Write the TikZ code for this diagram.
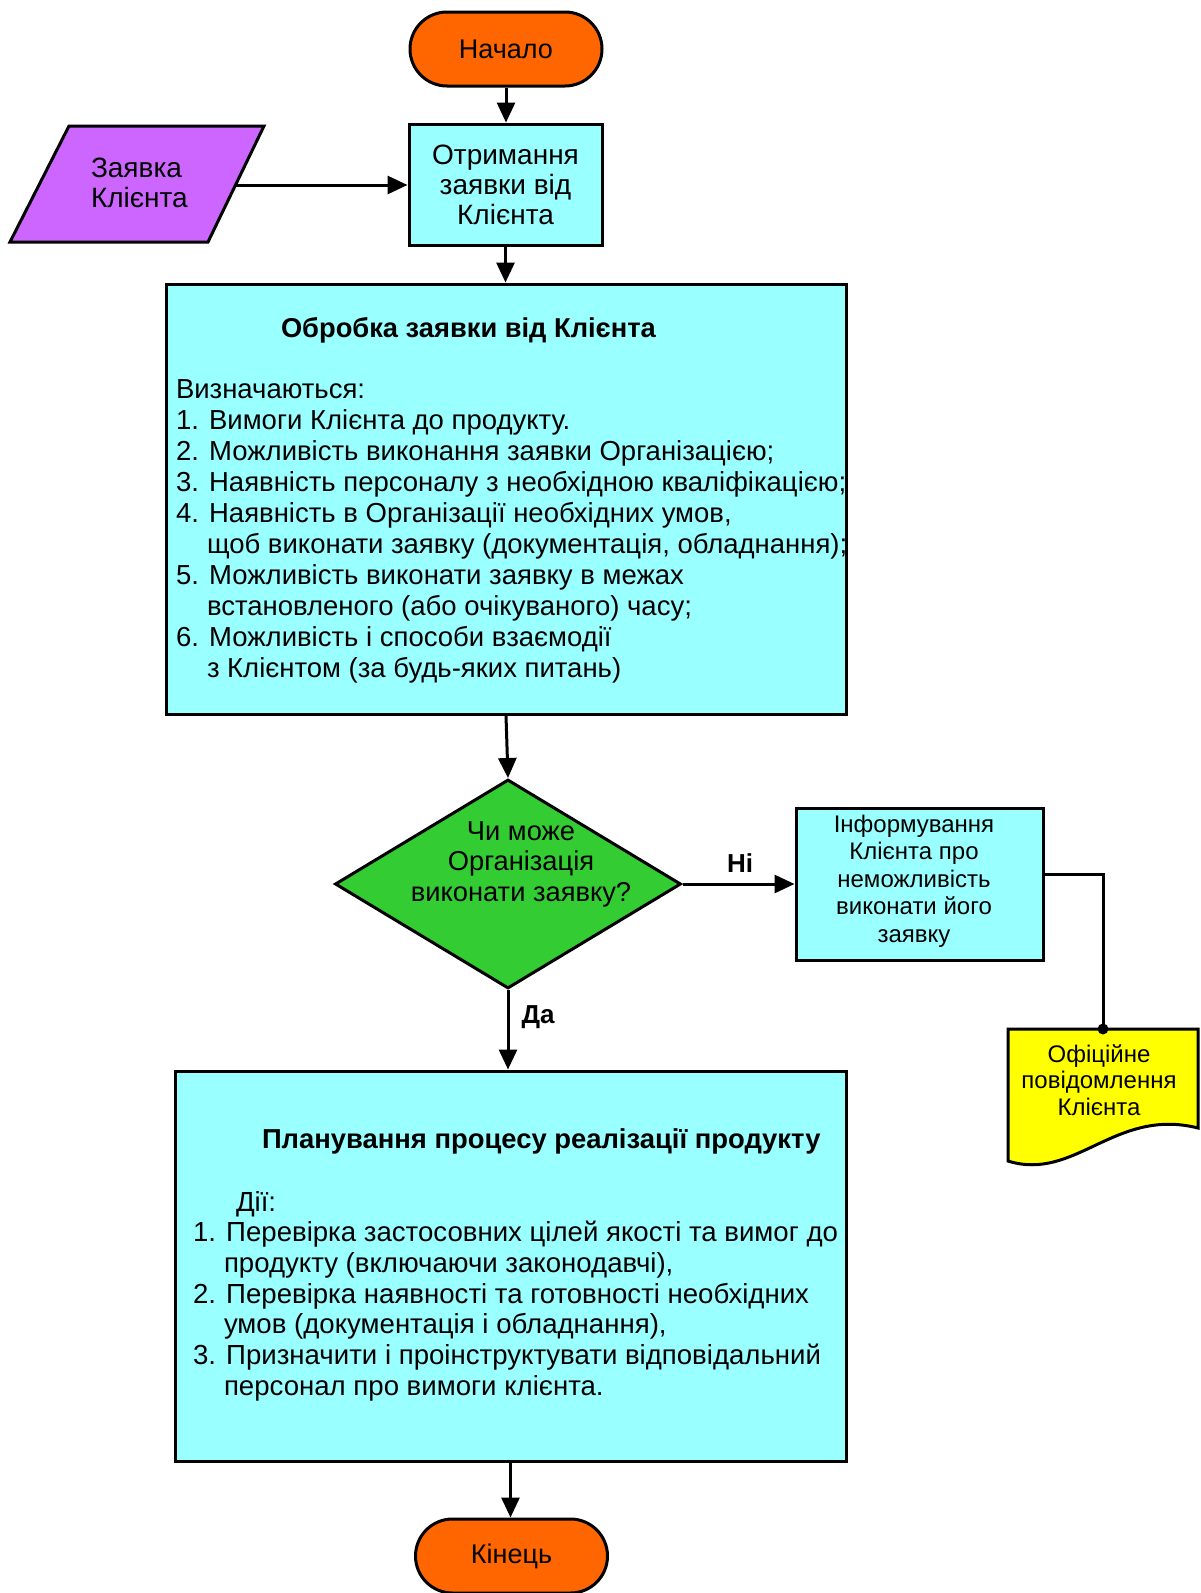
\documentclass[tikz,border=0pt]{standalone}
\usepackage{fontspec}
\setmainfont{Liberation Sans}
\usetikzlibrary{arrows.meta,shapes.geometric}
\definecolor{termorange}{HTML}{FF6600}
\definecolor{proccyan}{HTML}{99FFFF}
\definecolor{inpviolet}{HTML}{CC66FF}
\definecolor{decgreen}{HTML}{33CC33}
\definecolor{docyellow}{HTML}{FFFF00}
% font size with a fixed line pitch
\newcommand{\fsz}[2]{\fontsize{#1}{#2}\selectfont\lineskiplimit=-100pt\relax}
\newcommand{\firstline}{\rule{0pt}{22pt}}
\newcommand{\contind}{\hspace*{31pt}}
\begin{document}
\begin{tikzpicture}[x=1pt,y=-1pt,
  terminal/.style={draw, line width=3pt, fill=termorange, rectangle, rounded corners=37pt,
    minimum width=192pt, minimum height=74pt, font=\fsz{27}{30}},
  procbox/.style={draw, line width=3pt, fill=proccyan, rectangle, inner sep=0pt},
  txt/.style={inner sep=0pt, outer sep=0pt},
  flow/.style={line width=3pt, -{Triangle[length=20pt,width=18pt]}},
  link/.style={line width=3pt},
]
\useasboundingbox (0,0) rectangle (1200,1593);
\fill[white] (0,0) rectangle (1200,1593);

% start
\node[terminal] (start) at (506,49) {Начало};

% receiving the request
\node[procbox, minimum width=193pt, minimum height=121pt, align=center, font=\fsz{28}{30}]
  (receive) at (505.5,184.5) {Отримання\\заявки від\\Клієнта};

% input: client request
\draw[line width=3pt, fill=inpviolet, line join=miter]
  (69,126) -- (264,126) -- (208,242) -- (10,242) -- cycle;
\node[txt, anchor=west, align=left, font=\fsz{28}{30}] (request) at (91,183) {Заявка\\Клієнта};
\coordinate (request-out) at (236,185);

% processing the request
\node[procbox, minimum width=680pt, minimum height=430pt] (process) at (506,499) {};
\node[txt, anchor=base west, font=\bfseries\fsz{27.3}{31}] (process-title) at (281,337)
  {Обробка заявки від Клієнта};
\node[txt, anchor=north west, align=left, font=\fsz{27.5}{31}] (process-list) at (176,376) {%
  \firstline Визначаються:\\
  1. Вимоги Клієнта до продукту.\\
  2. Можливість виконання заявки Організацією;\\
  3. Наявність персоналу з необхідною кваліфікацією;\\
  4. Наявність в Організації необхідних умов,\\
  \contind щоб виконати заявку (документація, обладнання);\\
  5. Можливість виконати заявку в межах\\
  \contind встановленого (або очікуваного) часу;\\
  6. Можливість і способи взаємодії\\
  \contind з Клієнтом (за будь-яких питань)};

% decision
\node[draw, diamond, line width=3pt, fill=decgreen, minimum width=346pt, minimum height=209pt,
  inner sep=0pt] (decide) at (508,884) {};
\node[txt, align=center, font=\fsz{27.3}{30.5}] (decide-text) at (521,864)
  {Чи може\\Організація\\виконати заявку?};

% informing the client
\node[procbox, minimum width=247pt, minimum height=152pt] (inform) at (919.5,884) {};
\node[txt, align=center, font=\fsz{24}{27.5}] (inform-text) at (914,881)
  {Інформування\\Клієнта про\\неможливість\\виконати його\\заявку};

% document: official notice
\draw[line width=3pt, fill=docyellow, line join=miter]
  (1008,1029) -- (1198,1029) -- (1198,1128)
  .. controls (1115,1107) and (1075,1182) .. (1008,1161) -- cycle;
\coordinate (notice-top) at (1103,1029);
\node[txt, align=center, font=\fsz{24}{26.5}] (notice) at (1099,1080)
  {Офіційне\\повідомлення\\Клієнта};

% planning
\node[procbox, minimum width=671pt, minimum height=390pt] (plan) at (510.5,1266) {};
\node[txt, anchor=base west, font=\bfseries\fsz{27.4}{31}] (plan-title) at (262,1148)
  {Планування процесу реалізації продукту};
\node[txt, anchor=north west, align=left, font=\fsz{27.6}{30.7}] (plan-list) at (193,1189) {%
  \firstline\hspace*{43pt}Дії:\\
  1. Перевірка застосовних цілей якості та вимог до\\
  \contind продукту (включаючи законодавчі),\\
  2. Перевірка наявності та готовності необхідних\\
  \contind умов (документація і обладнання),\\
  3. Призначити і проінструктувати відповідальний\\
  \contind персонал про вимоги клієнта.};

% end
\node[terminal] (finish) at (511.5,1556) {Кінець};

% connectors
\draw[flow] (start.south) -- (start.south |- receive.north);
\draw[flow] (request-out) -- (request-out -| receive.west);
\draw[flow] (receive.south) -- (receive.south |- process.north);
\draw[flow] (process.south) -- (decide.north);
\draw[flow] (decide.south) -- (decide.south |- plan.north);
\draw[flow] (plan.south) -- (plan.south |- finish.north);
\draw[flow] (decide.east) -- (inform.west);
\draw[link] ([yshift=10pt]inform.east) -| (notice-top);
\fill (notice-top) circle (5.5pt);

% branch labels
\node[txt, font=\bfseries\fsz{26}{28}] (no-label) at (740,863) {Ні};
\node[txt, font=\bfseries\fsz{26}{28}] (yes-label) at (538,1017) {Да};
\end{tikzpicture}
\end{document}
